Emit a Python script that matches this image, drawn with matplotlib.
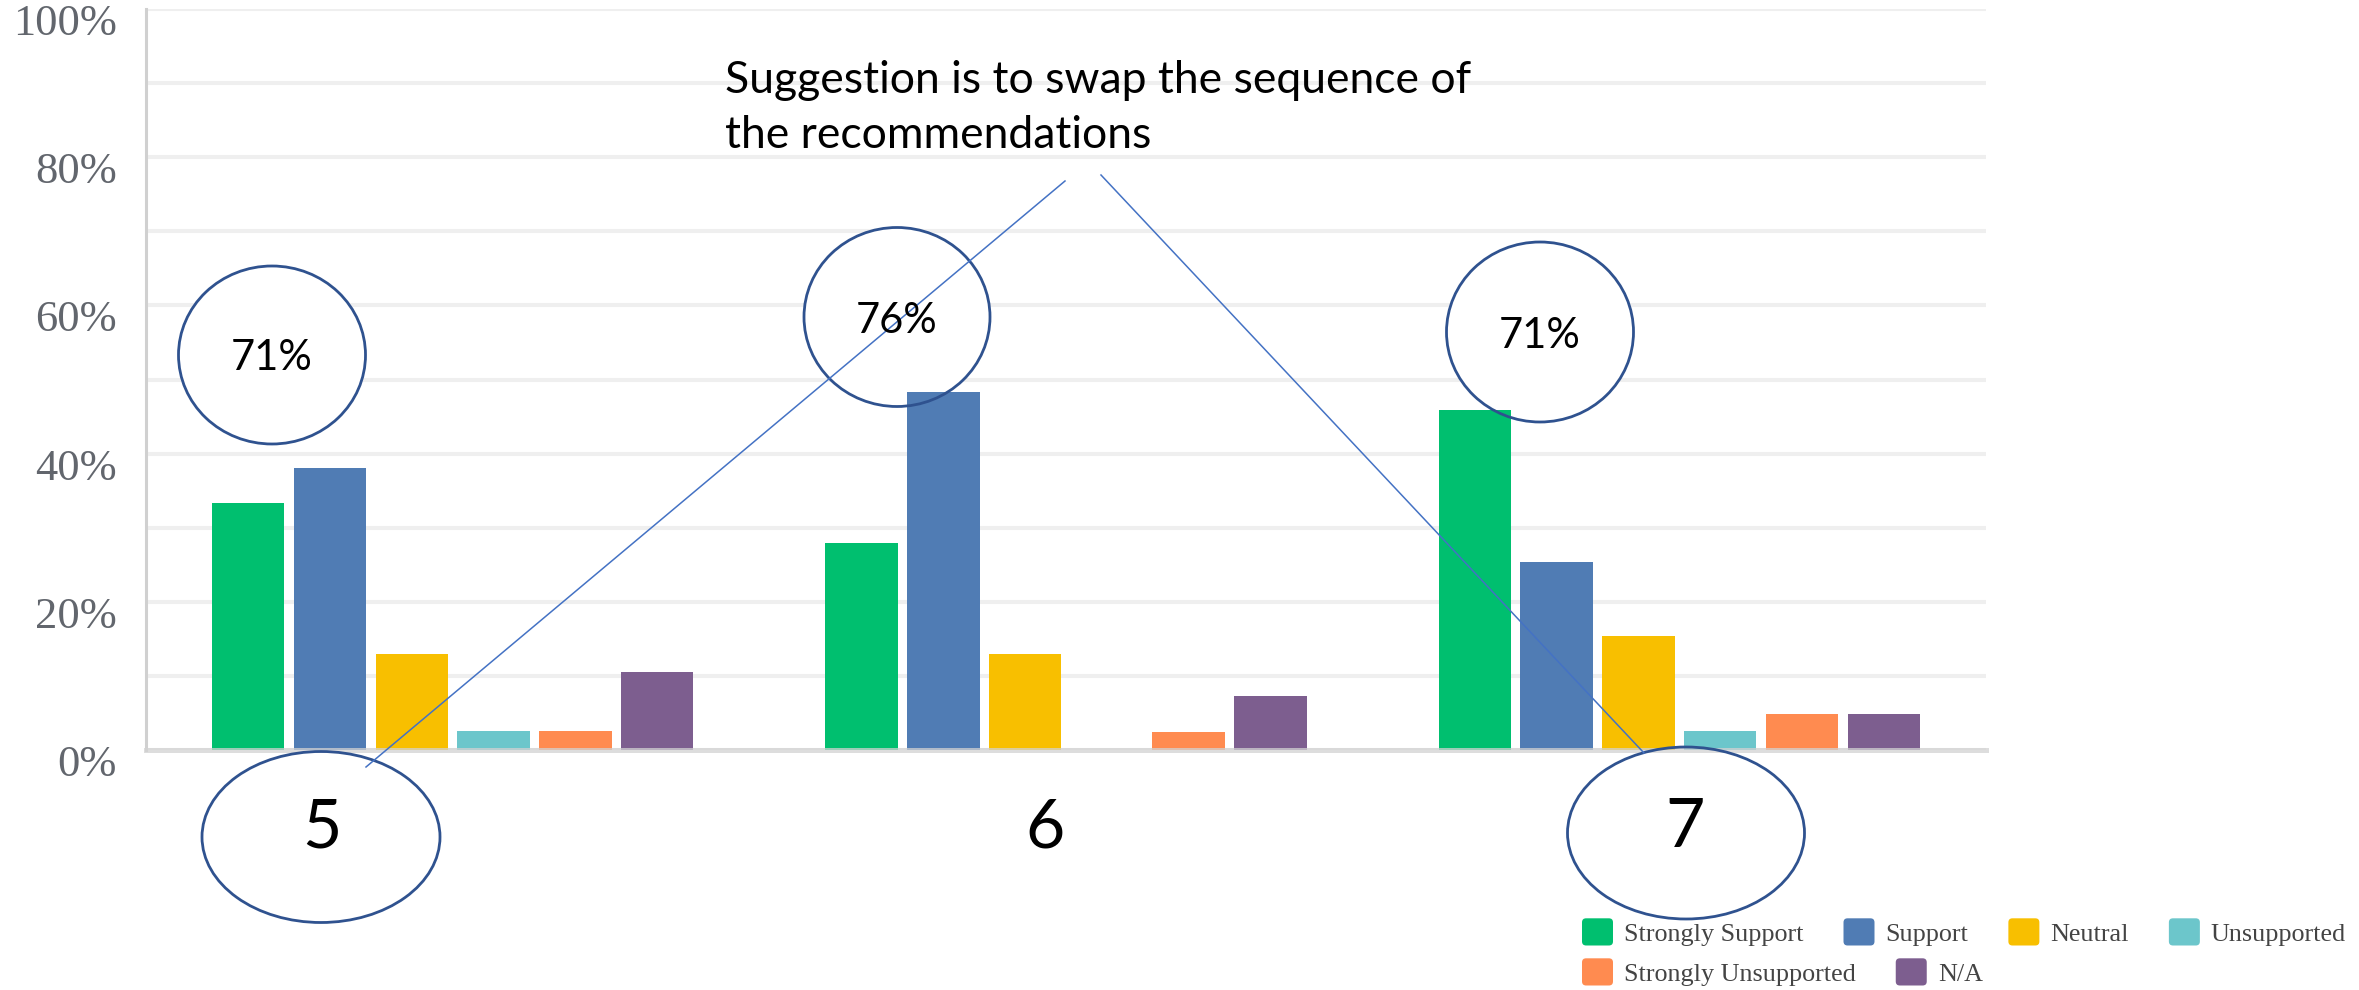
import matplotlib
matplotlib.use('Agg')
import matplotlib.pyplot as plt
import numpy as np
from matplotlib.patches import Ellipse, FancyBboxPatch, Patch
from matplotlib.lines import Line2D
from matplotlib.legend_handler import HandlerPatch
from matplotlib.transforms import ScaledTranslation

# ---------------- data ----------------
categories = ['5', '6', '7']
series_names = ['Strongly Support', 'Support', 'Neutral', 'Unsupported',
                'Strongly Unsupported', 'N/A']
strongly_support = [33.3, 28.0, 45.9]
support = [38.1, 48.3, 25.4]
neutral = [13.0, 12.9, 15.4]
unsupported = [2.5, 0.0, 2.5]
strongly_unsupported = [2.5, 2.4, 4.8]
not_applicable = [10.5, 7.3, 4.8]
series_values = [strongly_support, support, neutral, unsupported,
                 strongly_unsupported, not_applicable]
series_colors = ['#00BF6F', '#507CB4', '#F8BF00', '#6CC6CB', '#FF8B50', '#7D5E8F']

combined_labels = ['71%', '76%', '71%']
y_ticks = [0, 20, 40, 60, 80, 100]
y_tick_labels = ['0%', '20%', '40%', '60%', '80%', '100%']
suggestion_lines = ['Suggestion is to swap the sequence of', 'the recommendations']

# ---------------- figure ----------------
W, H, DPI = 2359, 990, 100
fig = plt.figure(figsize=(W / DPI, H / DPI), dpi=DPI)
fig.patch.set_facecolor('white')


def fx(px):
    return px / W


def fy(py):
    return 1 - py / H


ax = fig.add_axes([fx(146), fy(750), fx(1986) - fx(146), fy(9) - fy(750)])
ax.patch.set_alpha(0)

x = np.arange(len(categories))
n = len(series_values)
slot = 0.8 / n
bar_w = slot * 0.885
for i, (vals, col, name) in enumerate(zip(series_values, series_colors, series_names)):
    ax.bar(x + (i - (n - 1) / 2) * slot, vals, width=bar_w, color=col,
           zorder=2, label=name, linewidth=0)

ax.set_xlim(-0.5, len(categories) - 0.5)
ax.set_ylim(0, 100)
ax.set_yticks(np.arange(0, 101, 10))
ax.set_yticklabels([])
ax.set_xticks([])
ax.tick_params(length=0)
ax.grid(axis='y', color='#efefef', lw=2.9)
ax.set_axisbelow(True)
for s in ['top', 'right', 'bottom']:
    ax.spines[s].set_visible(False)
ax.spines['left'].set_color('#d0d0d0')
ax.spines['left'].set_linewidth(2.2)
ax.axhline(0, color='#d2d2d2', lw=3.6, alpha=0.75, zorder=3, clip_on=False)

# y tick labels (offset slightly below their gridlines, as in the reference)
ytrans = ax.get_yaxis_transform() + ScaledTranslation(-29 / DPI, -15 / DPI, fig.dpi_scale_trans)
for v, lab in zip(y_ticks, y_tick_labels):
    ax.text(0, v, lab, transform=ytrans, ha='right', va='center',
            fontfamily='Liberation Serif', fontsize=32, color='#62666d', clip_on=False)

# ---------------- annotations ----------------
ELL_COL = '#2F528F'


def ellipse(cx, cy, w, h):
    ax.add_patch(Ellipse((fx(cx), fy(cy)), w / W, h / H, transform=fig.transFigure,
                         facecolor='white', edgecolor='none', zorder=1, clip_on=False))
    ax.add_patch(Ellipse((fx(cx), fy(cy)), w / W, h / H, transform=fig.transFigure,
                         facecolor='none', edgecolor=ELL_COL, lw=2.0, zorder=4, clip_on=False))


# percentage ellipses
pct_ell = [(272, 355, 187, 178), (897, 317, 186, 179), (1540, 332, 187, 180)]
pct_txt = [(272, 370), (897, 333), (1540, 348)]
for (cx, cy, w, h), (tx, ty), lab in zip(pct_ell, pct_txt, combined_labels):
    ellipse(cx, cy, w, h)
    ax.text(fx(tx), fy(ty), lab, transform=fig.transFigure, ha='center', va='baseline',
            fontfamily='Lato', fontsize=30, color='black', zorder=5, clip_on=False)

# category number labels
ellipse(321, 837, 238, 171)
ellipse(1686, 833, 237, 172)
cat_x = [322, 1045, 1685]
for cx, lab in zip(cat_x, categories):
    ax.text(fx(cx), fy(847), lab, transform=fig.transFigure, ha='center', va='baseline',
            fontfamily='Lato', fontsize=49, color='black', zorder=5, clip_on=False)

# connector lines
ax.add_line(Line2D([fx(366), fx(1065)], [fy(767), fy(181)], transform=fig.transFigure,
                   color='#4472C4', lw=1.1, zorder=4, clip_on=False))
ax.add_line(Line2D([fx(1101), fx(1644)], [fy(175), fy(753)], transform=fig.transFigure,
                   color='#4472C4', lw=1.1, zorder=4, clip_on=False))

# suggestion text
for line, base in zip(suggestion_lines, [93, 148]):
    ax.text(fx(725), fy(base), line, transform=fig.transFigure, ha='left', va='baseline',
            fontfamily='Lato', fontsize=32, color='black', zorder=5, clip_on=False)


# ---------------- legend ----------------
class RoundHandler(HandlerPatch):
    def create_artists(self, legend, orig_handle, xdescent, ydescent, width, height,
                       fontsize, trans):
        p = FancyBboxPatch((-xdescent, -ydescent), width, height,
                           boxstyle='round,pad=0,rounding_size=%f' % (0.15 * height),
                           facecolor=orig_handle.get_facecolor(), edgecolor='none',
                           transform=trans)
        return [p]


handles = [Patch(facecolor=c) for c in series_colors]
fs = 18.8
fs_px = fs * DPI / 72
leg_kw = dict(loc='center left', frameon=False, borderpad=0, borderaxespad=0,
              handlelength=31 / fs_px, handleheight=32 / fs_px,
              handletextpad=11 / fs_px, columnspacing=40 / fs_px,
              prop=dict(family='Liberation Serif', size=fs),
              handler_map={Patch: RoundHandler()})
leg1 = fig.legend(handles[:4], series_names[:4], ncol=4,
                  bbox_to_anchor=(fx(1582), fy(932)), **leg_kw)
leg2 = fig.legend(handles[4:], series_names[4:], ncol=2,
                  bbox_to_anchor=(fx(1582), fy(972)), **leg_kw)
for lg in (leg1, leg2):
    for t in lg.get_texts():
        t.set_color('#444444')

fig.savefig('out.png', dpi=DPI, facecolor='white')
